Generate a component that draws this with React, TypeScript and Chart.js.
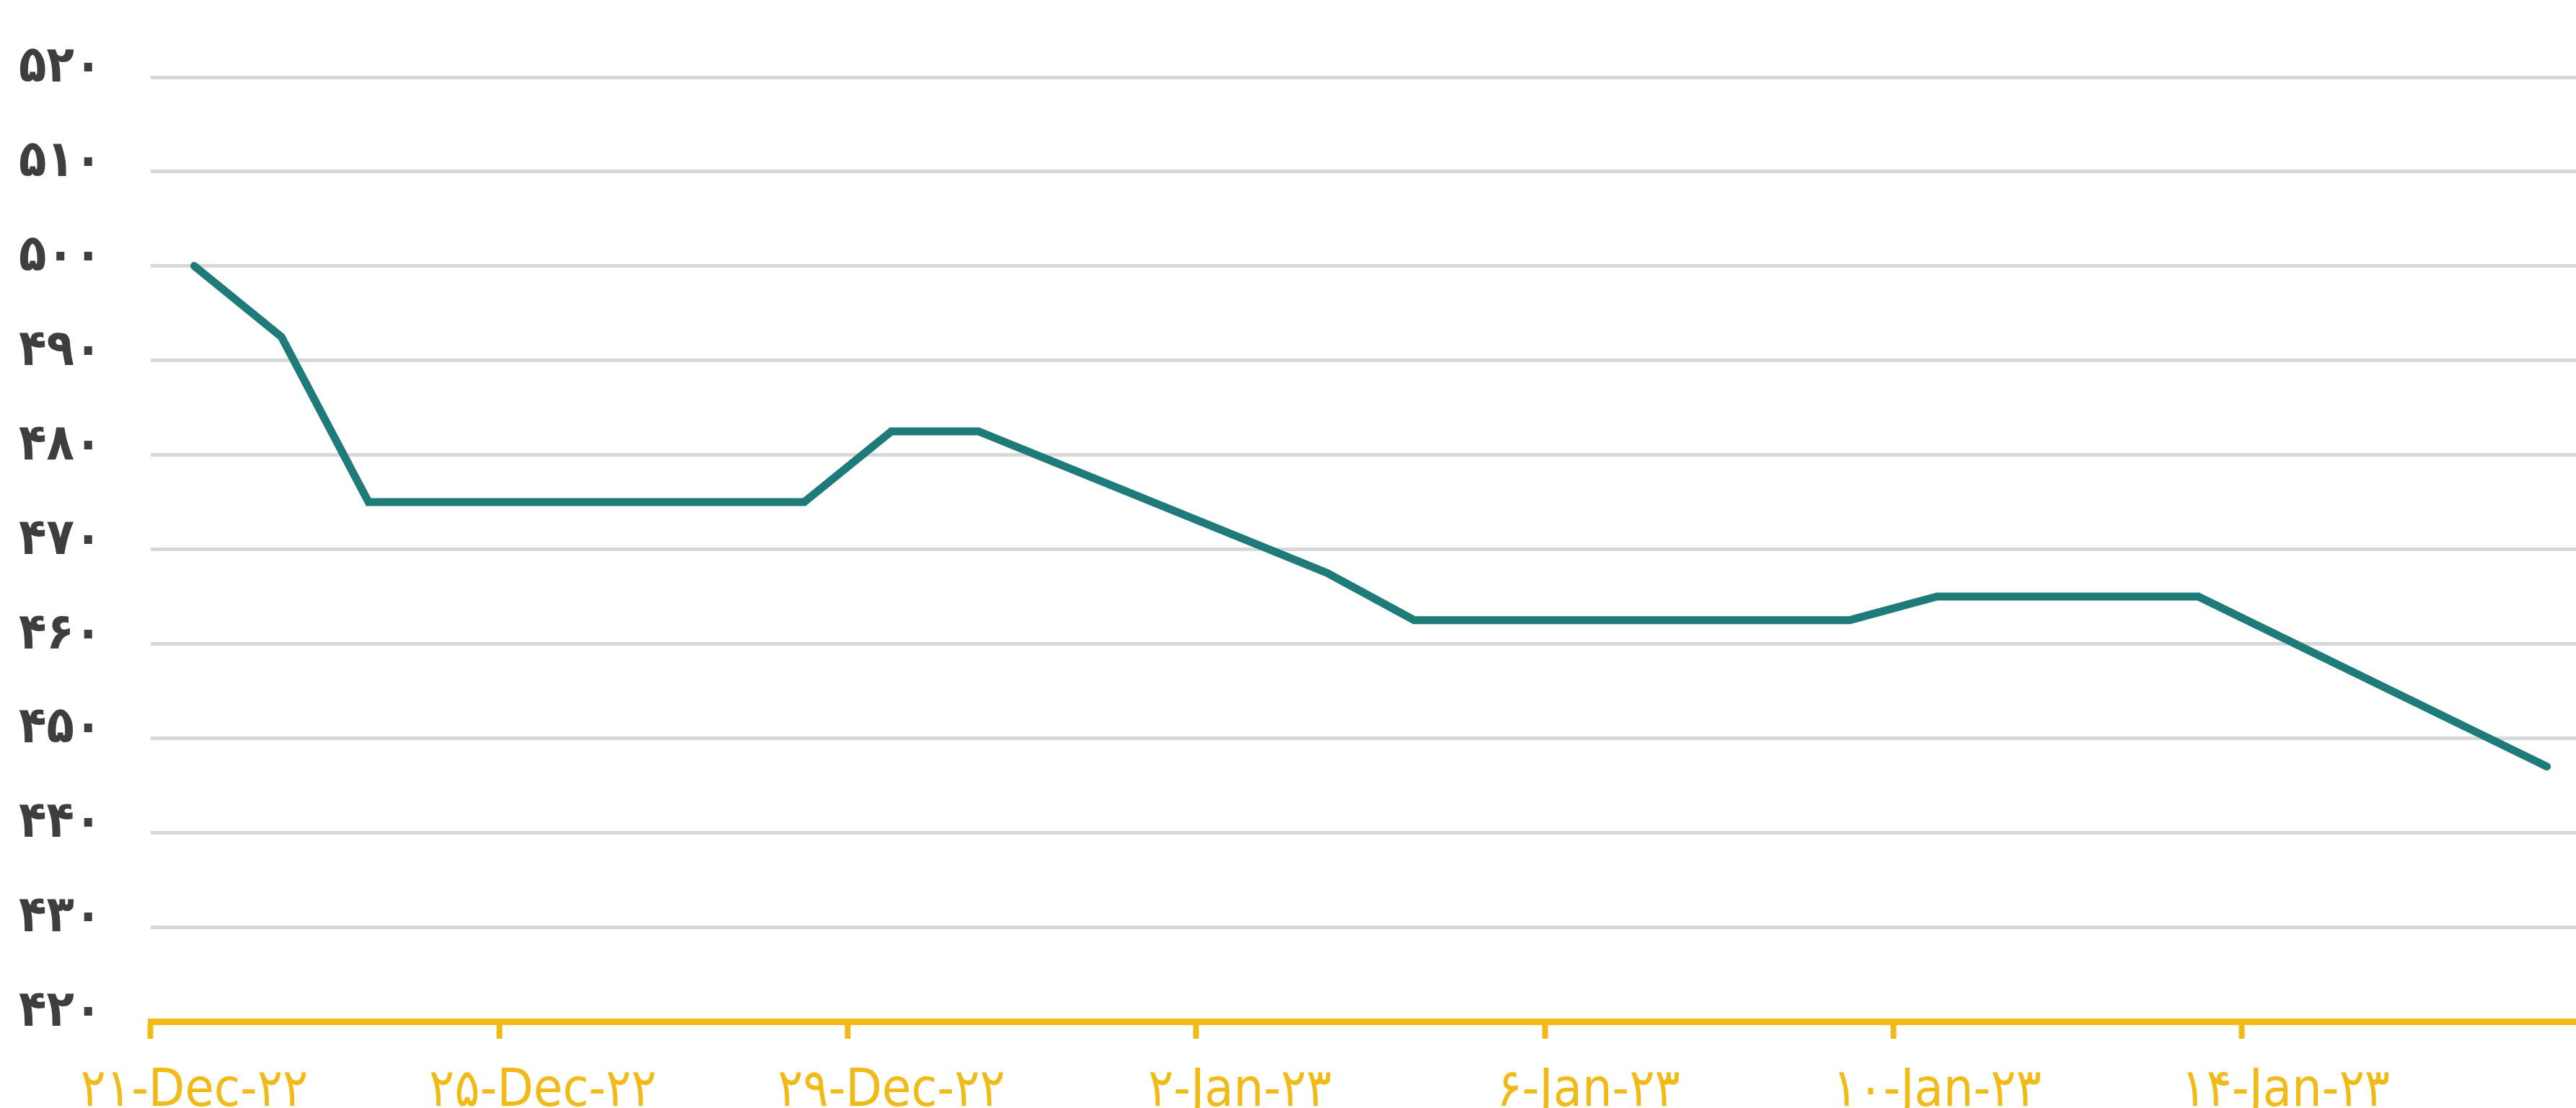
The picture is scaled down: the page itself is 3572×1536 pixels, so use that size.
import React, { useEffect, useRef } from 'react';
import { Chart, registerables } from 'chart.js';

Chart.register(...registerables);

// One category per calendar day (21 Dec 2022 – 17 Jan 2023)
const categories: string[] = [
  '2022-12-21', '2022-12-22', '2022-12-23', '2022-12-24', '2022-12-25', '2022-12-26', '2022-12-27',
  '2022-12-28', '2022-12-29', '2022-12-30', '2022-12-31', '2023-01-01', '2023-01-02', '2023-01-03',
  '2023-01-04', '2023-01-05', '2023-01-06', '2023-01-07', '2023-01-08', '2023-01-09', '2023-01-10',
  '2023-01-11', '2023-01-12', '2023-01-13', '2023-01-14', '2023-01-15', '2023-01-16', '2023-01-17',
];

// Values (null = no trading day, line spans the gap)
const prices: (number | null)[] = [
  500, 492.5, 475, null, null, null, 475,
  475, 482.5, 482.5, null, null, null, 467.5,
  462.5, 462.5, 462.5, null, null, 462.5, 465,
  465, 465, 465, null, null, null, 447,
];

// X tick labels, shown every 4th day
const xTickLabels: string[] = [
  '۲۱-Dec-۲۲', '۲۵-Dec-۲۲', '۲۹-Dec-۲۲', '۲-Jan-۲۳', '۶-Jan-۲۳', '۱۰-Jan-۲۳', '۱۴-Jan-۲۳',
];
const xTickEvery = 4;

// Y tick labels from 420 to 520
const yTickValues: number[] = [420, 430, 440, 450, 460, 470, 480, 490, 500, 510, 520];
const yTickLabels: string[] = ['۴۲۰', '۴۳۰', '۴۴۰', '۴۵۰', '۴۶۰', '۴۷۰', '۴۸۰', '۴۹۰', '۵۰۰', '۵۱۰', '۵۲۰'];

const LINE_COLOR = '#1F7B79';
const GOLD = '#F1BA16';
const GRID = '#D8D8D8';
const LABEL_DARK = '#3E3E3E';

const CANVAS_W = 3600;
const CANVAS_H = 1600;
const LEFT_PAD = 26;

export default function App() {
  const canvasRef = useRef<HTMLCanvasElement | null>(null);

  useEffect(() => {
    const canvas = canvasRef.current;
    if (!canvas) return;
    const chart = new Chart(canvas, {
      type: 'line',
      data: {
        labels: categories,
        datasets: [
          {
            data: prices,
            borderColor: LINE_COLOR,
            borderWidth: 11,
            pointRadius: 0,
            tension: 0,
            spanGaps: true,
            borderCapStyle: 'round',
            borderJoinStyle: 'miter',
            fill: false,
          },
        ],
      },
      options: {
        animation: false,
        responsive: false,
        devicePixelRatio: 1,
        layout: { padding: { top: 107, right: 8, left: LEFT_PAD, bottom: 0 } },
        plugins: {
          legend: { display: false },
          tooltip: { enabled: false },
          title: { display: false },
        },
        scales: {
          x: {
            type: 'category',
            offset: true,
            afterFit: (scale: any) => {
              scale.height = CANVAS_H - 1416;
            },
            grid: {
              offset: true,
              drawOnChartArea: false,
              drawTicks: true,
              tickLength: 24,
              tickWidth: 8,
              tickColor: (ctx: any) => (ctx.index % xTickEvery === 0 ? GOLD : 'rgba(0,0,0,0)'),
            },
            border: { display: true, color: GOLD, width: 9 },
            ticks: {
              autoSkip: false,
              maxRotation: 0,
              minRotation: 0,
              padding: 30,
              color: GOLD,
              font: { family: "'DejaVu Sans Condensed', 'DejaVu Sans', sans-serif", size: 73 },
              callback: (_v: any, index: number) =>
                index % xTickEvery === 0 ? xTickLabels[index / xTickEvery] ?? '' : '',
            },
          },
          y: {
            min: yTickValues[0],
            max: yTickValues[yTickValues.length - 1],
            afterFit: (scale: any) => {
              scale.width = 209 - LEFT_PAD;
            },
            grid: {
              drawTicks: false,
              lineWidth: 5,
              color: (ctx: any) => (ctx.tick && ctx.tick.value === yTickValues[0] ? 'rgba(0,0,0,0)' : GRID),
            },
            border: { display: false },
            ticks: {
              stepSize: 10,
              padding: 0,
              crossAlign: 'far',
              labelOffset: -12,
              color: LABEL_DARK,
              font: { family: "'DejaVu Sans Condensed', 'DejaVu Sans', sans-serif", size: 70, weight: 'bold' },
              callback: (value: any) => {
                const i = yTickValues.indexOf(Number(value));
                return i >= 0 ? yTickLabels[i] : '';
              },
            },
          },
        },
      },
    });
    return () => chart.destroy();
  }, []);

  return (
    <div
      style={{
        position: 'fixed',
        left: 0,
        top: 0,
        width: 3572,
        height: 1536,
        overflow: 'hidden',
        background: '#FFFFFF',
      }}
    >
      <canvas ref={canvasRef} width={CANVAS_W} height={CANVAS_H} style={{ display: 'block' }} />
    </div>
  );
}
